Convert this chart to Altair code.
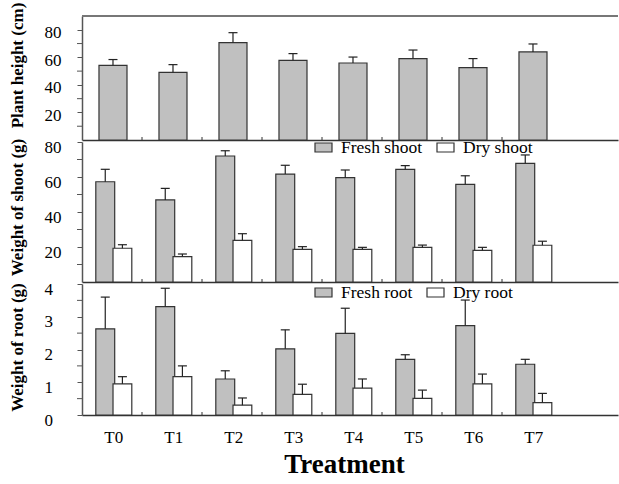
import json
import altair as alt
import pandas as pd

# ---- data -------------------------------------------------------------
treatments = ["T0", "T1", "T2", "T3", "T4", "T5", "T6", "T7"]

plant_height = [54.2, 49.1, 70.7, 57.8, 55.9, 59.1, 52.5, 63.9]
plant_height_se = [4.2, 5.6, 7.2, 4.9, 4.3, 6.2, 6.6, 5.8]

fresh_shoot = [57.3, 46.9, 72.0, 61.7, 59.6, 64.4, 55.8, 67.8]
fresh_shoot_se = [7.1, 6.6, 3.0, 5.0, 4.4, 2.1, 4.9, 4.8]
dry_shoot = [19.3, 14.5, 23.8, 18.7, 18.7, 19.8, 18.1, 21.0]
dry_shoot_se = [2.0, 1.5, 3.8, 1.5, 1.1, 1.3, 1.7, 2.3]

fresh_root = [2.63, 3.31, 1.10, 2.02, 2.49, 1.70, 2.73, 1.55]
fresh_root_se = [0.97, 0.56, 0.25, 0.58, 0.77, 0.14, 0.78, 0.15]
dry_root = [0.95, 1.17, 0.30, 0.63, 0.82, 0.51, 0.95, 0.38]
dry_root_se = [0.22, 0.33, 0.22, 0.31, 0.28, 0.25, 0.30, 0.28]

# y-axis tick values (labelled majors, unlabelled minors)
height_major = [20, 40, 60, 80]
height_minor = [10, 30, 50, 70]
shoot_major = [20, 40, 60, 80]
shoot_minor = [10, 30, 50, 70]
root_major = [0, 1, 2, 3, 4]
root_minor = [0.5, 1.5, 2.5, 3.5]

# ---- layout -----------------------------------------------------------
FONT = "Liberation Serif"
W = 536                 # plot width in px
X_MAX = W / 60.0        # one treatment slot = 60 px
SINGLE = (0.283, 0.75)  # bar span inside a slot (single series)
PAIR = [(0.23, 0.545), (0.517, 0.83)]  # fresh / dry spans inside a slot
CAP = 0.075             # half width of the error-bar cap
GRAY = "#c0c0c0"
EDGE = "#333333"
AXIS = "#555555"


def build_frame(series):
    """series: list of (name, values, errors, (lo, hi))"""
    rows = []
    for name, vals, errs, (lo, hi) in series:
        for i, (t, v, e) in enumerate(zip(treatments, vals, errs)):
            mid = i + (lo + hi) / 2
            rows.append(dict(treatment=t, series=name, value=v, top=v + e,
                             lo=i + lo, hi=i + hi, mid=mid,
                             cap_lo=mid - CAP, cap_hi=mid + CAP))
    return pd.DataFrame(rows)


def y_axis(title, values, title_y, label_offset):
    return alt.Axis(
        title=title, values=values, tickCount=50, format="d",
        labelOverlap=False, labelBound=False, labelFlush=False,
        tickSize=5, tickColor=AXIS, tickWidth=1,
        domainColor=AXIS, domainWidth=1.5,
        labelAlign="left", labelPadding=33, labelOffset=label_offset,
        labelFontSize=17, labelColor="black", labelFont=FONT,
        titleFontSize=17, titleFontWeight="bold", titleColor="black",
        titleFont=FONT,
        titleAngle=270, titleAlign="center", titleBaseline="middle",
        titleX=-64.5, titleY=title_y, grid=False,
    )


plain_x_axis = alt.Axis(labels=False, ticks=False, title=None,
                        domainColor=EDGE, domainWidth=1.5, grid=False)

centers = [i + 0.52 for i in range(len(treatments))]
bottom_x_axis = alt.Axis(
    values=centers, tickCount=50,
    labelExpr=json.dumps(treatments) + "[floor(datum.value)]",
    labelOverlap=False, tickSize=0, labelPadding=14, labelFontSize=17,
    labelColor="black", labelFont=FONT,
    labelFlush=False, domainColor=EDGE, domainWidth=1.5, grid=False,
    title="Treatment", titleFontSize=27, titleFontWeight="bold",
    titleFont=FONT,
    titleColor="black", titleX=262, titleY=49, titleBaseline="middle",
)


def panel(df, height, ymax, yaxis, minor, xaxis, fill, top_border=False):
    xs = alt.Scale(domain=[0, X_MAX], nice=False, zero=False)
    ys = alt.Scale(domain=[0, ymax], nice=False)
    base = alt.Chart(df)
    bars = base.mark_bar(stroke=EDGE, strokeWidth=1.2).encode(
        x=alt.X("lo:Q", scale=xs, axis=xaxis),
        x2="hi:Q",
        y=alt.Y("value:Q", scale=ys, axis=yaxis),
        y2=alt.datum(0),
        fill=fill,
    )
    err = base.mark_rule(color="#222", strokeWidth=1.2).encode(
        x="mid:Q", y="value:Q", y2="top:Q")
    caps = base.mark_rule(color="#222", strokeWidth=1.2).encode(
        x="cap_lo:Q", x2="cap_hi:Q", y="top:Q")
    # short inward ticks between treatment slots
    xticks = alt.Chart(pd.DataFrame({"b": list(range(1, len(treatments)))})).mark_rule(
        color=EDGE, strokeWidth=1).encode(
        x="b:Q", y=alt.value(height), y2=alt.value(height - 3))
    # unlabelled minor ticks on the value axis
    yticks = alt.Chart(pd.DataFrame({"v": minor})).mark_rule(
        color=AXIS, strokeWidth=1).encode(
        y="v:Q", x=alt.value(-5), x2=alt.value(0))
    layers = [bars, err, caps, xticks, yticks]
    if top_border:
        layers.append(alt.Chart(pd.DataFrame({"b": [0]})).mark_rule(
            color="#777", strokeWidth=2).encode(
            x=alt.value(0), x2=alt.value(W), y=alt.value(0)))
    return alt.layer(*layers).properties(width=W, height=height)


def pair_fill(names, legend_y):
    return alt.Fill(
        "series:N",
        scale=alt.Scale(domain=names, range=[GRAY, "#ffffff"]),
        legend=alt.Legend(
            title=None, orient="none", legendX=232, legendY=legend_y,
            direction="horizontal", padding=0,
            symbolType="M-1,-0.53L1,-0.53L1,0.53L-1,0.53Z", symbolSize=289,
            symbolStrokeColor=EDGE, symbolStrokeWidth=1.2, symbolOpacity=1,
            labelFontSize=17.5, labelColor="black", labelOffset=8,
            columnPadding=11, labelFont=FONT,
        ),
    )


height_df = build_frame([("Plant height", plant_height, plant_height_se, SINGLE)])
shoot_df = build_frame([
    ("Fresh shoot", fresh_shoot, fresh_shoot_se, PAIR[0]),
    ("Dry shoot", dry_shoot, dry_shoot_se, PAIR[1]),
])
root_df = build_frame([
    ("Fresh root", fresh_root, fresh_root_se, PAIR[0]),
    ("Dry root", dry_root, dry_root_se, PAIR[1]),
])

p_height = panel(
    height_df, 124, 90,
    y_axis("Plant height (cm)", height_major, 49, 3), height_minor,
    plain_x_axis, alt.value(GRAY), top_border=True)

p_shoot = panel(
    shoot_df, 140, 80,
    y_axis("Weight of shoot (g)", shoot_major, 65, 5), shoot_minor,
    plain_x_axis, pair_fill(["Fresh shoot", "Dry shoot"], -4))

p_root = panel(
    root_df, 131, 4,
    y_axis("Weight of root (g)", root_major, 63, 5), root_minor,
    bottom_x_axis, pair_fill(["Fresh root", "Dry root"], -1))

chart = alt.vconcat(p_height, p_shoot, p_root, spacing=2, bounds="flush").resolve_scale(
    fill="independent"
).resolve_legend(fill="independent").properties(
    padding={"left": 8, "top": 2, "right": 0, "bottom": 5}
).configure_view(stroke=None).configure_axis(
    labelFont=FONT, titleFont=FONT, labelOverlap=False
).configure_legend(labelFont=FONT)

chart.save("out.html", embed_options={"renderer": "svg", "actions": False})
